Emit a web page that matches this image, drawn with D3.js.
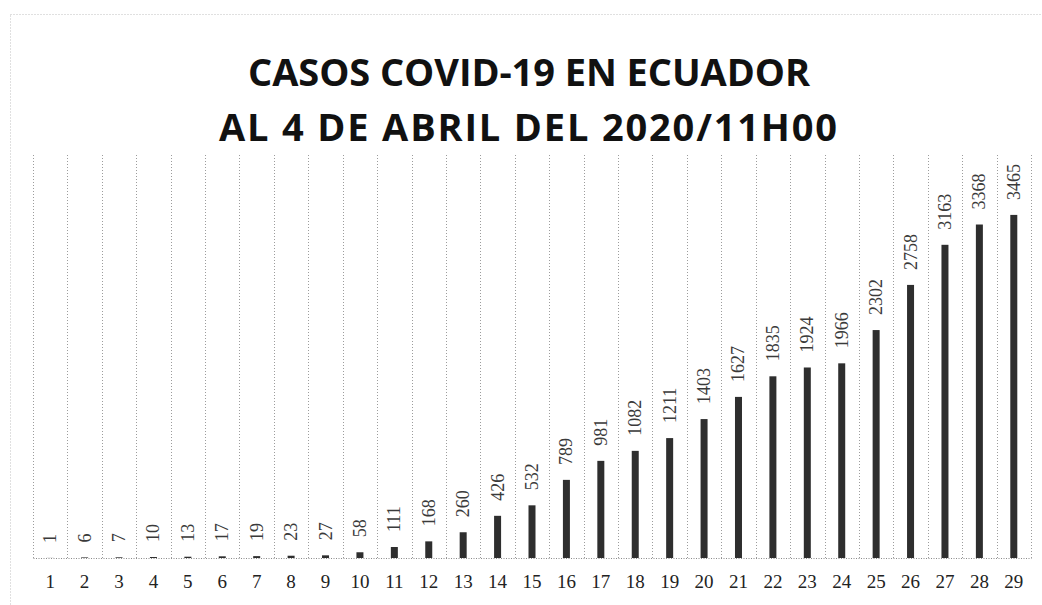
<!DOCTYPE html>
<html>
<head>
<meta charset="utf-8">
<script src="https://cdn.jsdelivr.net/npm/d3@7"></script>
<style>
  body { margin: 0; background: #fff; }
  svg { display: block; }
</style>
</head>
<body>
<svg id="chart"></svg>
<script>
const TITLE_LINES = ['CASOS COVID-19 EN ECUADOR', 'AL 4 DE ABRIL DEL 2020/11H00'];
const DAYS = d3.range(1, 30);
const CASES = [1, 6, 7, 10, 13, 17, 19, 23, 27, 58, 111, 168, 260, 426, 532, 789,
  981, 1082, 1211, 1403, 1627, 1835, 1924, 1966, 2302, 2758, 3163, 3368, 3465];

const W = 1042;
const H = 605;
const MARGIN = { top: 155, right: 11, bottom: 47, left: 33 };
const BAR_WIDTH = 7;

const data = DAYS.map((d, i) => ({ day: d, value: CASES[i] }));

const svg = d3.select('#chart').attr('width', W).attr('height', H);

// faint outer frame of the pasted chart
svg.append('rect')
  .attr('x', 10.5).attr('y', 14.5)
  .attr('width', W + 10).attr('height', H)
  .attr('fill', 'none')
  .attr('stroke', '#c0c0c0')
  .attr('stroke-dasharray', '1,2');

svg.append('g').attr('class', 'title')
  .selectAll('text')
  .data(TITLE_LINES)
  .join('text')
    .attr('x', (d, i) => (i ? 219 : 248))
    .attr('y', (d, i) => 86 + i * 55)
    .attr('textLength', (d, i) => (i ? 618 : 562))
    .attr('lengthAdjust', 'spacing')
    .attr('font-family', '"Open Sans", sans-serif')
    .attr('font-weight', 700)
    .attr('font-size', 38)
    .attr('fill', '#111')
    .text(d => d);

const plotW = W - MARGIN.left - MARGIN.right;
const plotH = H - MARGIN.top - MARGIN.bottom;

const chart = svg.append('g')
  .attr('transform', `translate(${MARGIN.left},${MARGIN.top})`);

const x = d3.scaleBand()
  .domain(DAYS)
  .range([0, plotW])
  .paddingInner(0)
  .paddingOuter(0);

const y = d3.scaleLinear()
  .domain([0, 4070])
  .range([plotH, 0]);

// vertical dotted gridlines between the categories
chart.append('g').attr('class', 'grid')
  .selectAll('line')
  .data(DAYS.concat([null]))
  .join('line')
    .attr('x1', d => Math.round(d === null ? plotW : x(d)) + 0.5)
    .attr('x2', d => Math.round(d === null ? plotW : x(d)) + 0.5)
    .attr('y1', 0)
    .attr('y2', plotH)
    .attr('stroke', '#9c9c9c')
    .attr('stroke-dasharray', '1,2');

const xAxis = chart.append('g')
  .attr('class', 'axis axis-x')
  .attr('transform', `translate(0,${plotH})`)
  .call(d3.axisBottom(x).tickSize(0).tickPadding(17));

xAxis.select('.domain')
  .attr('stroke', '#8a8a8a')
  .attr('stroke-dasharray', '1,1.5');

xAxis.selectAll('text')
  .attr('font-family', '"Liberation Serif", "DejaVu Serif", serif')
  .attr('font-size', 19)
  .attr('fill', '#222');

chart.append('g').attr('class', 'bars')
  .selectAll('rect')
  .data(data)
  .join('rect')
    .attr('x', d => x(d.day) + x.bandwidth() / 2 - BAR_WIDTH / 2)
    .attr('y', d => y(d.value))
    .attr('width', BAR_WIDTH)
    .attr('height', d => plotH - y(d.value))
    .attr('fill', '#2e2e2e');

chart.append('g').attr('class', 'labels')
  .selectAll('text')
  .data(data)
  .join('text')
    .attr('transform', d => `translate(${x(d.day) + x.bandwidth() / 2 + 6},${y(d.value) - 15}) rotate(-90)`)
    .attr('font-family', '"Liberation Serif", "DejaVu Serif", serif')
    .attr('font-size', 18)
    .attr('fill', '#3a3a3a')
    .text(d => d.value);
</script>
</body>
</html>
